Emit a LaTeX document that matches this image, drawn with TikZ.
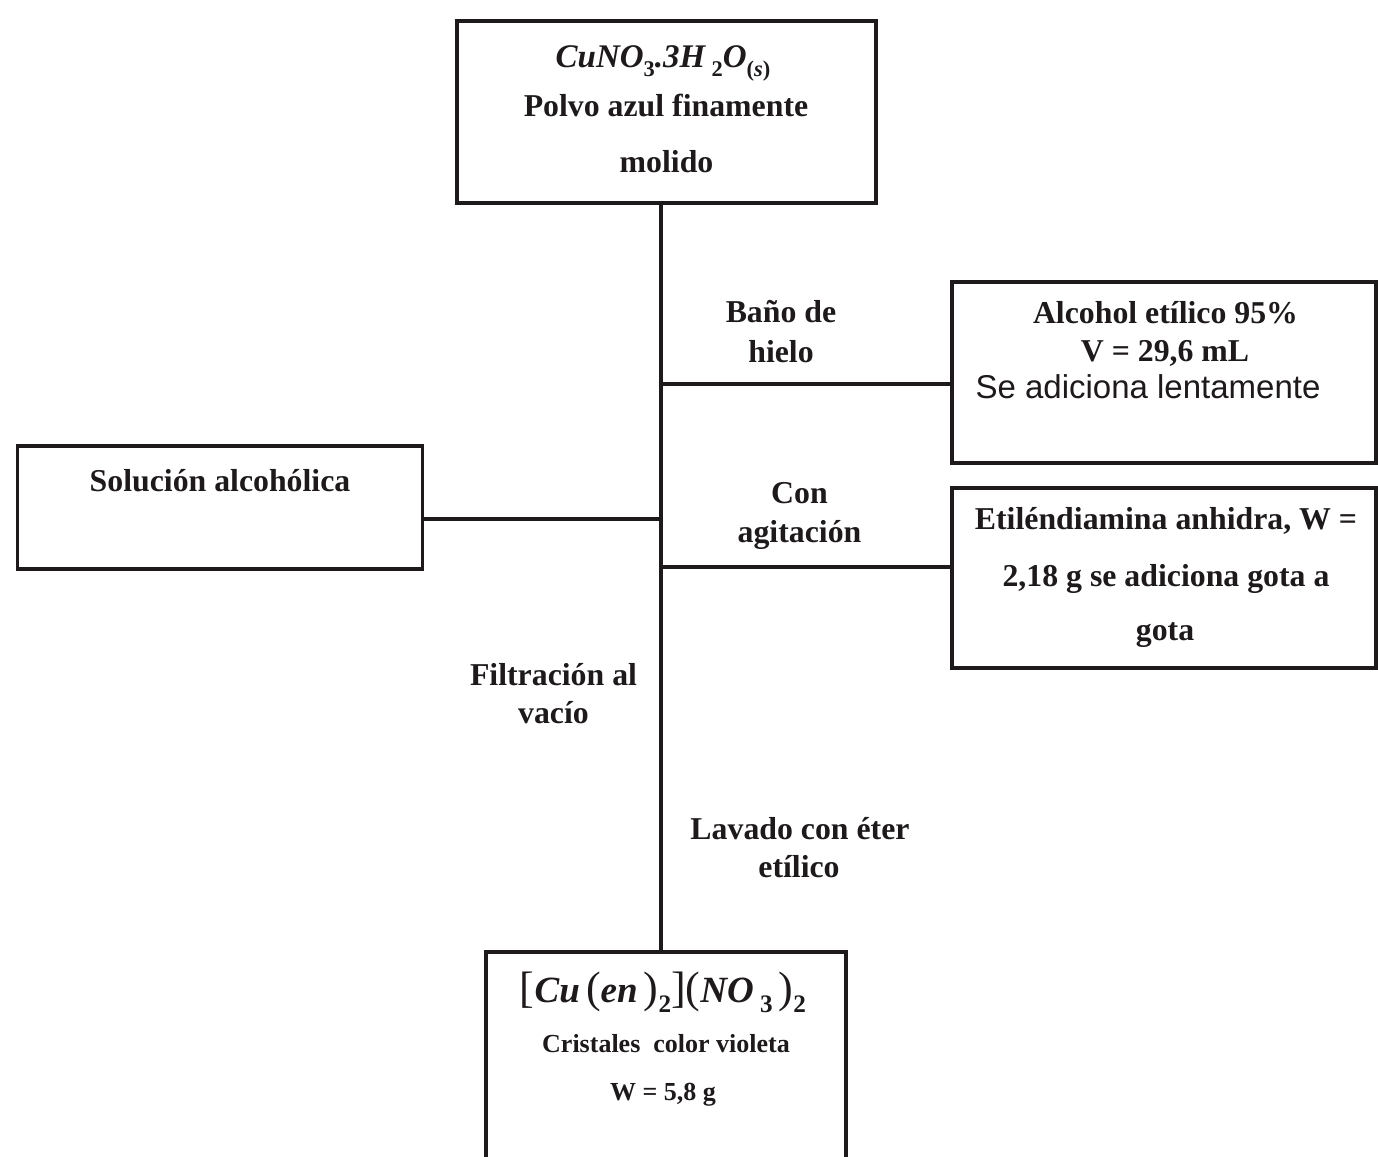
\documentclass[tikz,border=0pt]{standalone}
\usepackage{fontspec}
\setmainfont{Liberation Serif}
\newfontfamily\arialfont{Liberation Sans}
\definecolor{ink}{RGB}{30,26,28}
% enlarged brackets and parentheses for the complex formula
\newcommand\fence[1]{{\fontsize{44}{44}\selectfont\mdseries #1}}
% subscripts set a little larger than the default
\newcommand\sub[1]{\raisebox{-0.28em}{\fontsize{0.68em}{1em}\selectfont #1}}
\begin{document}
\begin{tikzpicture}[x=1pt, y=-1pt,
  box/.style={draw=ink, line width=3.3pt, rectangle, inner sep=0pt, outer sep=0pt},
  link/.style={draw=ink, line width=3.3pt},
  lbl/.style={anchor=base, inner sep=0pt, text=ink, font=\fontsize{31.8}{38}\selectfont\bfseries},
  small/.style={lbl, font=\fontsize{26}{30}\selectfont\bfseries},
  formula/.style={lbl, font=\fontsize{33}{38}\selectfont\bfseries},
  bigformula/.style={lbl, font=\fontsize{37}{44}\selectfont\bfseries},
  sans/.style={anchor=base, inner sep=0pt, text=ink, font=\fontsize{33}{38}\selectfont\arialfont}]

\useasboundingbox (0,0) rectangle (1378,1156);
\clip (0,0) rectangle (1378,1156);
\fill[white] (0,0) rectangle (1378,1156);

% boxes
\node[box, minimum width=419pt, minimum height=182pt] (top) at (666.5,112) {};
\node[box, minimum width=405pt, minimum height=123pt] (left) at (220,507.5) {};
\node[box, minimum width=424pt, minimum height=181pt] (r1) at (1164,372.5) {};
\node[box, minimum width=424pt, minimum height=180pt] (r2) at (1164,578) {};
\node[box, minimum width=360pt, minimum height=224pt] (bot) at (666,1064) {};

% main line and branches
\coordinate (trunk) at (661,0);
\coordinate (jA) at (661,384);
\coordinate (jB) at (661,519);
\coordinate (jC) at (661,567);
\draw[link] (top.south -| trunk) -- (bot.north -| trunk);
\draw[link] (jA) -- (jA -| r1.west);
\draw[link] (jB) -- (jB -| left.east);
\draw[link] (jC) -- (jC -| r2.west);

% starting material
\node[formula] (fA) at (663,67) {\textit{CuNO}\sub{3}\textit{.3H}\,\sub{2}\textit{O}\sub{(\textit{s})}};
\node[lbl] (tA1) at (666,116) {Polvo azul finamente};
\node[lbl] (tA2) at (666.5,172) {molido};

% reagents
\node[lbl] (r1a) at (1165.5,323) {Alcohol etílico 95\%};
\node[lbl] (r1b) at (1165,361) {V = 29,6 mL};
\node[sans] (r1c) at (1148,398) {Se adiciona lentamente};
\node[lbl] (r2a) at (1166,529) {Etiléndiamina anhidra, W =};
\node[lbl] (r2b) at (1166,586) {2,18 g se adiciona gota a};
\node[lbl] (r2c) at (1165,640) {gota};

% by-product
\node[lbl] (lt) at (220,491) {Solución alcohólica};

% operating conditions
\node[lbl] (c1a) at (781,322) {Baño de};
\node[lbl] (c1b) at (781,362) {hielo};
\node[lbl] (c2a) at (799.5,503) {Con};
\node[lbl] (c2b) at (799.5,542) {agitación};
\node[lbl] (c3a) at (553.5,685) {Filtración al};
\node[lbl] (c3b) at (553.5,723) {vacío};
\node[lbl] (c4a) at (800,839) {Lavado con éter};
\node[lbl] (c4b) at (799,877) {etílico};

% product
\node[bigformula] (fB) at (663,1002) {\fence{[}\textit{Cu}\,\fence{(}\textit{en}\,\fence{)}\sub{2}\fence{]}\fence{(}\textit{NO}\,\sub{3}\,\fence{)}\sub{2}};
\node[small] (tB1) at (666,1052) {Cristales\ \ color violeta};
\node[small] (tB2) at (663,1100) {W = 5,8 g};
\end{tikzpicture}
\end{document}
